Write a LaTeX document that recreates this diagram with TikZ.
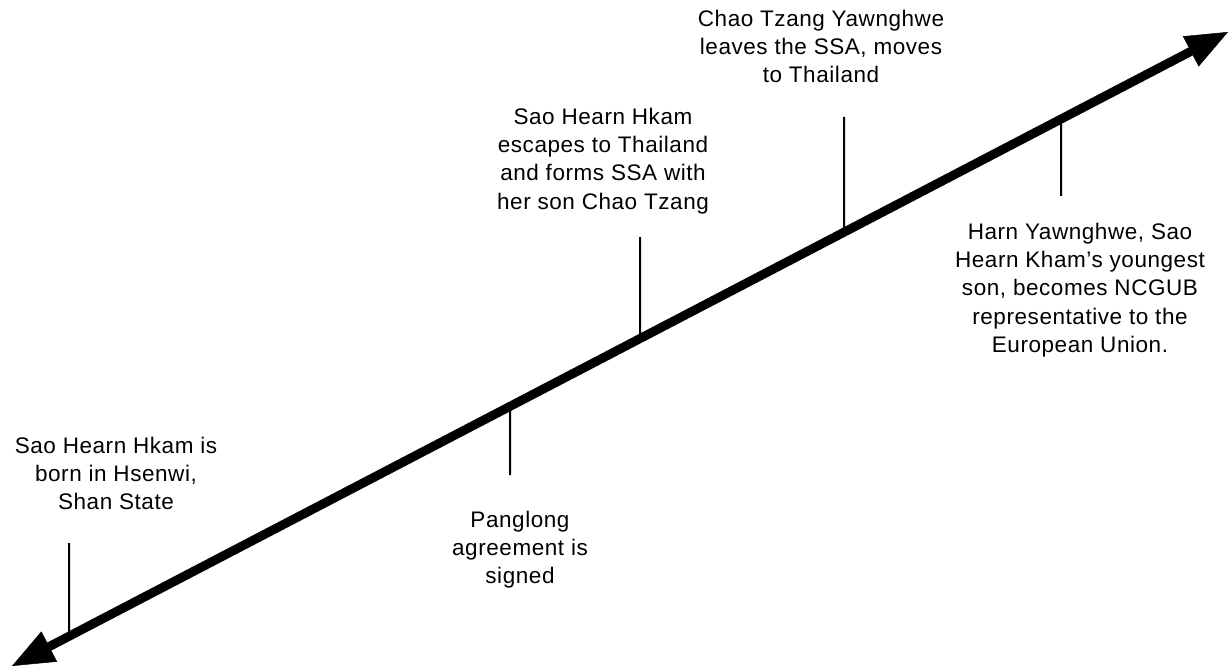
\documentclass[tikz,border=0pt]{standalone}
\usepackage{fontspec}
\setmainfont{Liberation Sans}
\newfontfamily\labfont[LetterSpace=2.5]{Liberation Sans}
\usetikzlibrary{arrows.meta,calc}
\begin{document}
\begin{tikzpicture}[x=1bp,y=-1bp,
  evtext/.style={align=center, inner sep=0pt, anchor=north,
    font=\labfont\fontsize{22.5bp}{28.3bp}\selectfont},
  ticker/.style={line width=2bp},
  mainline/.style={line width=9bp,
    {Triangle[length=42bp,width=34bp,line width=0.5bp]}-{Triangle[length=42bp,width=34bp,line width=0.5bp]}}]
\useasboundingbox (0,0) rectangle (1229,667);
\coordinate (A) at (12,666);
\coordinate (B) at (1228,32);
\coordinate (p1) at ($(A)!0.04688!(B)$);
\coordinate (p2) at ($(A)!0.40954!(B)$);
\coordinate (p3) at ($(A)!0.51645!(B)$);
\coordinate (p4) at ($(A)!0.68421!(B)$);
\coordinate (p5) at ($(A)!0.86266!(B)$);
\coordinate (t1) at (69,543);
\coordinate (t2) at (510,475);
\coordinate (t3) at (640,237);
\coordinate (t4) at (844,117);
\coordinate (t5) at (1061,196);
\draw[ticker] (p1) -- (t1);
\draw[ticker] (p2) -- (t2);
\draw[ticker] (p3) -- (t3);
\draw[ticker] (p4) -- (t4);
\draw[ticker] (p5) -- (t5);
\draw[mainline] (A) -- (B);
\node[evtext] (l1) at (116,436.6) {Sao Hearn Hkam is\\born in Hsenwi,\\Shan State};
\node[evtext] (l2) at (520,510.6) {Panglong\\agreement is\\signed};
\node[evtext] (l3) at (603,107.6) {Sao Hearn Hkam\\escapes to Thailand\\and forms SSA with\\her son Chao Tzang};
\node[evtext] (l4) at (821,9.6) {Chao Tzang Yawnghwe\\leaves the SSA, moves\\to Thailand};
\node[evtext] (l5) at (1080,222.6) {Harn Yawnghwe, Sao\\Hearn Kham’s youngest\\son, becomes NCGUB\\representative to the\\European Union.};
\end{tikzpicture}
\end{document}
